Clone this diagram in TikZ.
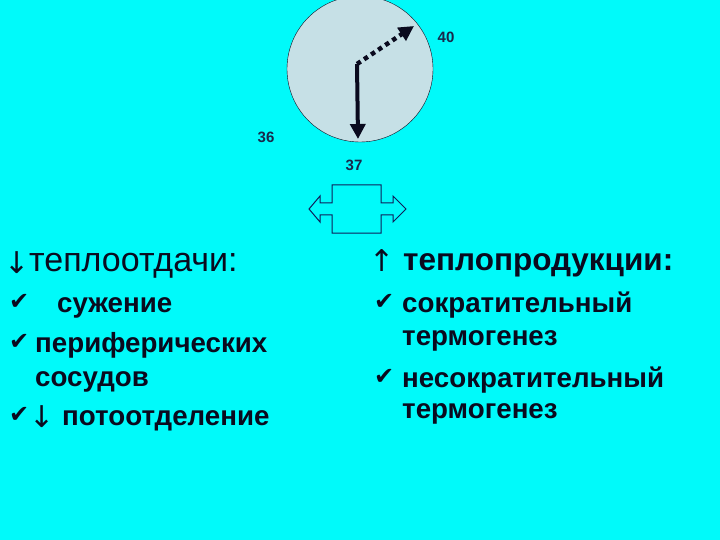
\documentclass[tikz,border=0pt]{standalone}
\usepackage{fontspec}
\setmainfont{Liberation Sans}
\newfontfamily\symfont{DejaVu Sans}
\usetikzlibrary{arrows.meta,positioning}

\definecolor{slide}{RGB}{0,250,250}
\definecolor{dialfill}{RGB}{198,224,230}
\definecolor{ink}{RGB}{10,10,30}
\definecolor{navy}{RGB}{25,40,75}
\definecolor{outline}{RGB}{15,30,90}

\begin{document}
\begin{tikzpicture}[x=1pt,y=-1pt,>={Triangle[length=15pt,width=15pt]},
    heading/.style={anchor=base west,inner sep=0pt,text=ink,font={\fontsize{34}{38}\selectfont}},
    itemtext/.style={anchor=base west,inner sep=0pt,text=ink,font={\fontsize{27.7}{32}\selectfont\bfseries}},
    tick/.style={anchor=base west,inner sep=0pt,text=ink,font={\symfont\fontsize{24}{28}\selectfont}},
    arrowsym/.style={anchor=base west,inner sep=0pt,text=ink,font={\symfont\fontsize{30}{32}\selectfont}},
    numlabel/.style={text=navy,inner sep=0pt,font={\fontsize{15}{17}\selectfont\bfseries}},
    hand/.style={->,line width=4pt,draw=ink}]
    \fill[slide] (0,0) rectangle (720,540);
    \useasboundingbox (0,0) rectangle (720,540);

    % dial
    \node[circle, draw=ink, fill=dialfill, minimum size=146pt, inner sep=0pt] (dial) at (360,69) {};
    \coordinate (pivot) at (357,64);
    \coordinate (tip37) at (358,139);
    \coordinate (tip40) at (414,26);
    \draw[hand] (pivot) -- (tip37);
    \draw[hand, line width=4.5pt, dash pattern=on 4.5pt off 4pt] (pivot) -- (tip40);

    \node[numlabel] (n40) at (446,37) {40};
    \node[numlabel] (n36) at (266,137) {36};
    \node[numlabel] (n37) at (354,165) {37};

    % double arrow
    \draw[outline, line width=1pt, fill=slide]
    (309,209) -- (320,196) -- (320,203) -- (332,203) -- (332,185) -- (381,185)
    -- (381,203) -- (393,203) -- (393,196) -- (406,209) -- (393,222) -- (393,215)
    -- (381,215) -- (381,233) -- (332,233) -- (332,215) -- (320,215) -- (320,222) -- cycle;

    % left list
    \node[arrowsym] (downl) at (4,273) {↓};
    \node[heading] (lhead) at (29,271) {теплоотдачи:};
    \node[tick] (c1) at (9,309) {✔};
    \node[itemtext] (l1) at (57,312) {сужение};
    \node[tick] (c2) at (9,349) {✔};
    \node[itemtext] (l2) at (35,352) {периферических};
    \node[itemtext] (l3) at (35,386) {сосудов};
    \node[tick] (c3) at (9,422) {✔};
    \node[arrowsym] (down2) at (29,427) {↓};
    \node[itemtext] (l4) at (62,425) {потоотделение};

    % right list
    \node[arrowsym] (upr) at (369,271) {↑};
    \node[itemtext, font={\fontsize{31.5}{36}\selectfont\bfseries}] (rhead) at (403,270) {теплопродукции:};
    \node[tick] (c4) at (374,309) {✔};
    \node[itemtext] (r1) at (402,312) {сократительный};
    \node[itemtext] (r2) at (402,345) {термогенез};
    \node[tick] (c5) at (374,384) {✔};
    \node[itemtext] (r3) at (402,387) {несократительный};
    \node[itemtext] (r4) at (402,418) {термогенез};
\end{tikzpicture}
\end{document}
